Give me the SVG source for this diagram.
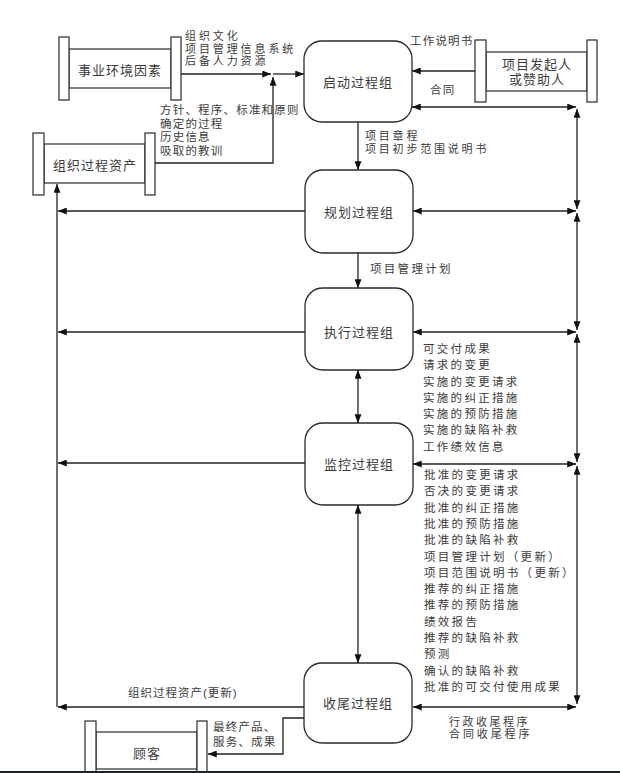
<svg xmlns="http://www.w3.org/2000/svg" width="620" height="773" viewBox="0 0 620 773">
<style>
text{font-family:"Liberation Sans","Noto Sans CJK SC",sans-serif;font-size:11.5px;fill:#3c3c3c;letter-spacing:2.3px;dominant-baseline:central}
.lbl{text-anchor:middle;font-size:13px;letter-spacing:1px}
.node{fill:#fff;stroke:#2a2a2a;stroke-width:1.3}
.ext{fill:#fff;stroke:#2a2a2a;stroke-width:1.2}
.c{fill:none;stroke:#222;stroke-width:1.3}
.a{marker-end:url(#ah)}
.b{marker-start:url(#ah);marker-end:url(#ah)}
.sm{letter-spacing:1.2px}
.tt{font-size:11px;letter-spacing:2.9px}
</style>
<defs>
<marker id="ah" viewBox="0 0 10 8" refX="10" refY="4" markerWidth="9" markerHeight="7" markerUnits="userSpaceOnUse" orient="auto-start-reverse">
<path d="M0,0 L10,4 L0,8 Z" fill="#111"/>
</marker>
</defs>
<rect width="620" height="773" fill="#fff"/>

<g id="connectors">
<path class="c a" d="M181,74 H271"/>
<path class="c a" d="M273,74 H304"/>
<path class="c a" d="M155,163 H273 V77"/>
<path class="c a" d="M475,71 H412"/>
<path class="c b" d="M412,107 H576"/>
<path class="c b" d="M577,109 V209"/>
<path class="c b" d="M577,213 V330"/>
<path class="c b" d="M577,334 V462"/>
<path class="c b" d="M577,466 V704"/>
<path class="c b" d="M413,211 H576"/>
<path class="c b" d="M413,332 H576"/>
<path class="c b" d="M413,464 H576"/>
<path class="c b" d="M413,707 H576"/>
<path class="c a" d="M305,211 H58"/>
<path class="c a" d="M305,332 H58"/>
<path class="c a" d="M305,463 H58"/>
<path class="c a" d="M305,707 H58"/>
<path class="c a" d="M57,707 V184"/>
<path class="c a" d="M305,718 H283 V754 H208"/>
<path class="c a" d="M358,122 V170"/>
<path class="c a" d="M358,253 V288"/>
<path class="c b" d="M358,370 V423"/>
<path class="c b" d="M358,505 V663"/>
</g>

<g id="env">
<rect class="ext" x="69" y="49" width="102" height="39"/>
<rect class="ext" x="59" y="37" width="10" height="63"/>
<rect class="ext" x="171" y="37" width="10" height="63"/>
<text class="lbl" x="120" y="70">事业环境因素</text>
</g>

<g id="opa">
<rect class="ext" x="44" y="144" width="101" height="39"/>
<rect class="ext" x="33" y="133" width="11" height="62"/>
<rect class="ext" x="145" y="133" width="10" height="62"/>
<text class="lbl" x="95" y="165">组织过程资产</text>
</g>

<g id="sponsor">
<rect class="ext" x="486" y="52" width="101" height="39"/>
<rect class="ext" x="475" y="40" width="11" height="62"/>
<rect class="ext" x="587" y="40" width="10" height="62"/>
<text class="lbl" x="537" y="64.5">项目发起人</text>
<text class="lbl" x="537" y="79">或赞助人</text>
</g>

<g id="customer">
<rect class="ext" x="96" y="732" width="101" height="37"/>
<rect class="ext" x="85" y="721" width="11" height="54"/>
<rect class="ext" x="197" y="721" width="10" height="54"/>
<text class="lbl" x="147" y="753">顾客</text>
</g>

<g id="initiating">
<rect class="node" x="304" y="41" width="108" height="81" rx="18"/>
<text class="lbl" x="358" y="82">启动过程组</text>
</g>
<g id="planning">
<rect class="node" x="305" y="170" width="108" height="83" rx="18"/>
<text class="lbl" x="359" y="212">规划过程组</text>
</g>
<g id="executing">
<rect class="node" x="305" y="288" width="108" height="82" rx="18"/>
<text class="lbl" x="359" y="332">执行过程组</text>
</g>
<g id="monitoring">
<rect class="node" x="305" y="423" width="108" height="82" rx="18"/>
<text class="lbl" x="359" y="464">监控过程组</text>
</g>
<g id="closing">
<rect class="node" x="304" y="663" width="108" height="80" rx="18"/>
<text class="lbl" x="358" y="703">收尾过程组</text>
</g>

<g id="labels">
<text class="tt" x="185" y="36">组织文化</text>
<text class="tt" x="185" y="48.5">项目管理信息系统</text>
<text class="tt" x="185" y="61">后备人力资源</text>
<text class="sm" x="160" y="110">方针、程序、标准和原则</text>
<text class="sm" x="160" y="123.5">确定的过程</text>
<text class="sm" x="160" y="137">历史信息</text>
<text class="sm" x="160" y="150.5">吸取的教训</text>
<text class="sm" x="410" y="41">工作说明书</text>
<text class="sm" x="430" y="90">合同</text>
<text class="tt" x="365" y="136" style="letter-spacing:2.8px">项目章程</text>
<text class="tt" x="365" y="148.5" style="letter-spacing:2.8px">项目初步范围说明书</text>
<text x="370" y="269">项目管理计划</text>
<text x="423" y="349">可交付成果</text>
<text x="423" y="365">请求的变更</text>
<text x="423" y="381.5">实施的变更请求</text>
<text x="423" y="397.7">实施的纠正措施</text>
<text x="423" y="414">实施的预防措施</text>
<text x="423" y="430">实施的缺陷补救</text>
<text x="423" y="446.5">工作绩效信息</text>
<text x="424" y="475">批准的变更请求</text>
<text x="424" y="491.3">否决的变更请求</text>
<text x="424" y="507.6">批准的纠正措施</text>
<text x="424" y="523.9">批准的预防措施</text>
<text x="424" y="540.2">批准的缺陷补救</text>
<text x="424" y="556.5">项目管理计划（更新）</text>
<text x="424" y="572.8">项目范围说明书（更新）</text>
<text x="424" y="589.1">推荐的纠正措施</text>
<text x="424" y="605.4">推荐的预防措施</text>
<text x="424" y="621.7">绩效报告</text>
<text x="424" y="638">推荐的缺陷补救</text>
<text x="424" y="654.3">预测</text>
<text x="424" y="670.6">确认的缺陷补救</text>
<text x="424" y="687">批准的可交付使用成果</text>
<text class="tt" x="449" y="721.5" style="letter-spacing:2.5px">行政收尾程序</text>
<text class="tt" x="449" y="734">合同收尾程序</text>
<text x="128" y="693" style="letter-spacing:1px">组织过程资产(更新)</text>
<text class="sm" x="213" y="727">最终产品、</text>
<text class="sm" x="213" y="742">服务、成果</text>
</g>
<rect x="0" y="771" width="620" height="2" fill="#1f2329"/>
</svg>
